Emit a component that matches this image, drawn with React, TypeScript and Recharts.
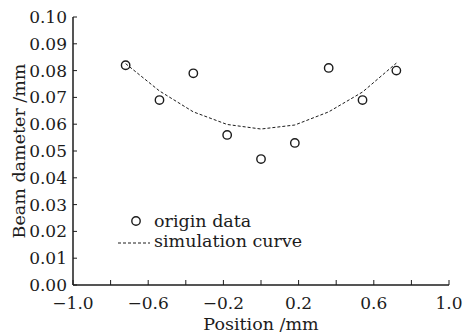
import { ComposedChart, Scatter, Line, XAxis, YAxis } from 'recharts';

const positions = [-0.72, -0.54, -0.36, -0.18, 0, 0.18, 0.36, 0.54, 0.72];
const originData = [0.082, 0.069, 0.079, 0.056, 0.047, 0.053, 0.081, 0.069, 0.08];
const simulationCurve = [0.0826, 0.0724, 0.0646, 0.0599, 0.0582, 0.0597, 0.0646, 0.072, 0.0828];

const xTicks = [-1.0, -0.8, -0.6, -0.4, -0.2, 0, 0.2, 0.4, 0.6, 0.8, 1.0];
const xLabeled = [-1.0, -0.6, -0.2, 0.2, 0.6, 1.0];
const yTicks = [0, 0.01, 0.02, 0.03, 0.04, 0.05, 0.06, 0.07, 0.08, 0.09, 0.1];

const points = positions.map((x, i) => ({ x, y: originData[i] }));
const curve = positions.map((x, i) => ({ x, y: simulationCurve[i] }));

const FONT = '"DejaVu Serif", serif';
const INK = '#1c1c1c';

const fmtX = (v: number) => {
  if (!xLabeled.some(t => Math.abs(t - v) < 1e-9)) return '';
  return (v < 0 ? '\u2212' : '') + Math.abs(v).toFixed(1);
};

const Ring = (props: any) => (
  <circle cx={props.cx} cy={props.cy} r={4.2} fill="none" stroke={INK} strokeWidth={1.4} />
);

const YTitle = (props: any) => {
  const vb = props.viewBox || {};
  const cy = vb.y + vb.height / 2;
  return (
    <text transform={`translate(25, ${cy}) rotate(-90)`} textAnchor="middle"
      fontFamily={FONT} fontSize={17.5} fill={INK}>Beam dameter /mm</text>
  );
};

const XTitle = (props: any) => {
  const vb = props.viewBox || {};
  return (
    <text x={vb.x + vb.width / 2} y={330} textAnchor="middle"
      fontFamily={FONT} fontSize={17.5} fill={INK}>Position /mm</text>
  );
};

const LegendBox = () => (
  <svg width={220} height={50} style={{ position: 'absolute', left: 110, top: 209 }}>
    <circle cx={26} cy={12} r={4.2} fill="none" stroke={INK} strokeWidth={1.4} />
    <text x={44} y={18} fontFamily={FONT} fontSize={17.5} fill={INK}>origin data</text>
    <line x1={8} x2={40} y1={34} y2={34} stroke={INK} strokeWidth={1} strokeDasharray="3 2" />
    <text x={44} y={38} fontFamily={FONT} fontSize={17.5} fill={INK}>simulation curve</text>
  </svg>
);

export default function App() {
  return (
    <div style={{ position: 'absolute', left: 0, top: 0, width: 464, height: 334, background: '#fff' }}>
      <ComposedChart width={464} height={334} margin={{ top: 17, right: 15, bottom: 0, left: 0 }}>
        <XAxis
          type="number"
          dataKey="x"
          domain={[-1, 1]}
          ticks={xTicks}
          tickFormatter={fmtX}
          interval={0}
          height={49}
          tickSize={-5}
          tickMargin={17}
          axisLine={{ stroke: INK, strokeWidth: 1.5 }}
          tickLine={{ stroke: INK, strokeWidth: 1 }}
          tick={{ fill: INK, fontFamily: FONT, fontSize: 17 }}
          label={{ content: XTitle }}
        />
        <YAxis
          type="number"
          domain={[0, 0.1]}
          ticks={yTicks}
          tickFormatter={(v: number) => v.toFixed(2)}
          interval={0}
          width={73}
          tickSize={-4}
          tickMargin={10}
          axisLine={{ stroke: INK, strokeWidth: 1.5 }}
          tickLine={{ stroke: INK, strokeWidth: 1 }}
          tick={{ fill: INK, fontFamily: FONT, fontSize: 17 }}
          label={{ content: YTitle }}
        />
        <Line
          data={curve}
          dataKey="y"
          type="linear"
          stroke={INK}
          strokeWidth={1}
          strokeDasharray="3 2"
          dot={false}
          isAnimationActive={false}
        />
        <Scatter data={points} dataKey="y" shape={Ring} isAnimationActive={false} />
      </ComposedChart>
      <LegendBox />
    </div>
  );
}
